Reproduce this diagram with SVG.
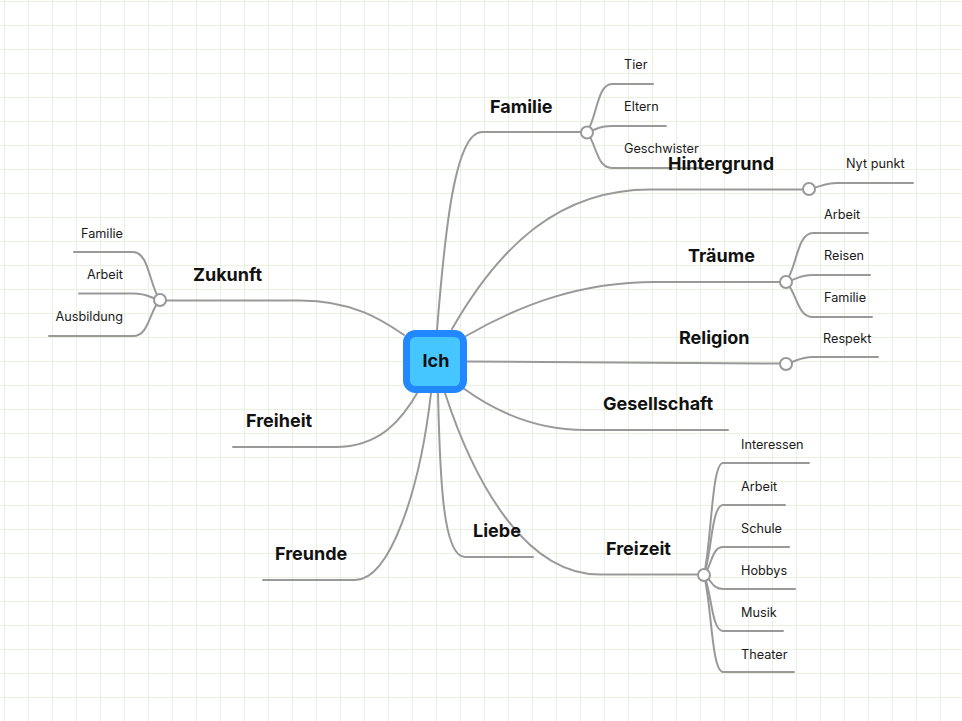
<svg xmlns="http://www.w3.org/2000/svg" width="962" height="721" viewBox="0 0 962 721">
<defs>
<pattern id="grid" patternUnits="userSpaceOnUse" x="4" y="1" width="24" height="24">
<path d="M0 0 H24 M0 0 V24" fill="none" stroke="#e3eed5" stroke-width="1.5"/>
</pattern>
<style>
.c{fill:none;stroke:#999;stroke-width:2;stroke-linecap:round}
.j{fill:#fff;stroke:#999;stroke-width:2}
.t{font-family:Inter,"Liberation Sans",sans-serif;font-weight:700;font-size:18px;fill:#111}
.s{font-family:Inter,"Liberation Sans",sans-serif;font-size:12.7px;fill:#1a1a1a}
</style>
</defs>
<rect width="962" height="721" fill="#fff"/>
<rect width="962" height="721" fill="url(#grid)"/>
<g id="connectors">
<path class="c" d="M437 330 C445 230 455 132 482 132 L581 132"/>
<path class="c" d="M452 329 C500 245 560 189.5 650 189.5 L802 189.5"/>
<path class="c" d="M466 336 C520 305 580 282 655 282 L780 282"/>
<path class="c" d="M467 361.5 L780 363.5"/>
<path class="c" d="M463 388 C500 415 540 430 585 430 L728 430"/>
<path class="c" d="M445 393 C470 470 520 574.5 600 574.5 L698 574.5"/>
<path class="c" d="M438 393 C440 480 443 557 465 557 L533 557"/>
<path class="c" d="M431 393 C420 490 390 580 355 580 L263 580"/>
<path class="c" d="M419 390 C402 420 380 447 335 447 L233 447"/>
<path class="c" d="M404 335 C385 322 355 300.5 300 300.5 L166 300.5"/>
<path class="c" d="M587 132 C597 117.6 597 84 612 84 L653 84"/>
<path class="c" d="M587 132 C597 130 597 126 612 126 L666 126"/>
<path class="c" d="M587 132 C597 146 597 168 612 168 L705 168"/>
<path class="c" d="M809 189 C820 187 825 183 837 183 L913 183"/>
<path class="c" d="M786 282 C797 267 797 233 813 233 L868 233"/>
<path class="c" d="M786 282 C797 280 797 275 813 275 L870 275"/>
<path class="c" d="M786 282 C797 292.5 797 317 813 317 L872 317"/>
<path class="c" d="M786 364 C797 361 800 357 813 357 L878 357"/>
<path class="c" d="M704 575 C711.6 541.4 711.6 463 723 463 L809 463"/>
<path class="c" d="M704 575 C711.6 554 711.6 505 723 505 L785 505"/>
<path class="c" d="M704 575 C711.6 566.6 711.6 547 723 547 L789 547"/>
<path class="c" d="M704 575 C711.6 579.2 711.6 589 723 589 L795 589"/>
<path class="c" d="M704 575 C711.6 591.8 711.6 631 723 631 L783 631"/>
<path class="c" d="M704 575 C711.6 604.1 711.6 672 723 672 L794 672"/>
<path class="c" d="M160 300 C149.2 285.6 149.2 252 133 252 L74 252"/>
<path class="c" d="M160 300 C149.2 298 149.2 293.5 133 293.5 L79 293.5"/>
<path class="c" d="M160 300 C149.2 310.8 149.2 336 133 336 L49 336"/>
<circle class="j" cx="587" cy="132.5" r="6"/>
<circle class="j" cx="809" cy="189" r="6"/>
<circle class="j" cx="786" cy="282" r="6"/>
<circle class="j" cx="786" cy="364" r="6"/>
<circle class="j" cx="704" cy="575" r="6"/>
<circle class="j" cx="160" cy="300" r="6"/>
</g>
<g id="node-ich">
<rect x="406.5" y="333.5" width="57" height="56" rx="9" fill="#45c6ff" stroke="#2188ff" stroke-width="7"/>
<text class="t" x="436" y="367" text-anchor="middle">Ich</text>
</g>
<g id="node-familie"><text class="t" x="490" y="112.5">Familie</text></g>
<g id="node-tier"><text class="s" x="624" y="69">Tier</text></g>
<g id="node-eltern"><text class="s" x="624" y="111">Eltern</text></g>
<g id="node-geschwister"><text class="s" x="624" y="153">Geschwister</text></g>
<g id="node-hintergrund"><text class="t" x="668" y="169.5">Hintergrund</text></g>
<g id="node-nyt-punkt"><text class="s" x="846" y="168">Nyt punkt</text></g>
<g id="node-traeume"><text class="t" x="688" y="261.5">Träume</text></g>
<g id="node-traeume-arbeit"><text class="s" x="824" y="218.5">Arbeit</text></g>
<g id="node-traeume-reisen"><text class="s" x="824" y="260">Reisen</text></g>
<g id="node-traeume-familie"><text class="s" x="824" y="302">Familie</text></g>
<g id="node-religion"><text class="t" x="679" y="343.5">Religion</text></g>
<g id="node-respekt"><text class="s" x="823" y="343">Respekt</text></g>
<g id="node-gesellschaft"><text class="t" x="603" y="409.5">Gesellschaft</text></g>
<g id="node-freizeit"><text class="t" x="606" y="554.5">Freizeit</text></g>
<g id="node-interessen"><text class="s" x="741" y="448.5">Interessen</text></g>
<g id="node-freizeit-arbeit"><text class="s" x="741" y="490.5">Arbeit</text></g>
<g id="node-schule"><text class="s" x="741" y="532.5">Schule</text></g>
<g id="node-hobbys"><text class="s" x="741" y="574.5">Hobbys</text></g>
<g id="node-musik"><text class="s" x="741" y="616.5">Musik</text></g>
<g id="node-theater"><text class="s" x="741" y="658.5">Theater</text></g>
<g id="node-liebe"><text class="t" x="473" y="537">Liebe</text></g>
<g id="node-freunde"><text class="t" x="275" y="560">Freunde</text></g>
<g id="node-freiheit"><text class="t" x="246" y="427">Freiheit</text></g>
<g id="node-zukunft"><text class="t" x="193" y="281">Zukunft</text></g>
<g id="node-zukunft-familie"><text class="s" x="123" y="237.5" text-anchor="end">Familie</text></g>
<g id="node-zukunft-arbeit"><text class="s" x="123" y="278.5" text-anchor="end">Arbeit</text></g>
<g id="node-ausbildung"><text class="s" x="123" y="321" text-anchor="end">Ausbildung</text></g>
</svg>
